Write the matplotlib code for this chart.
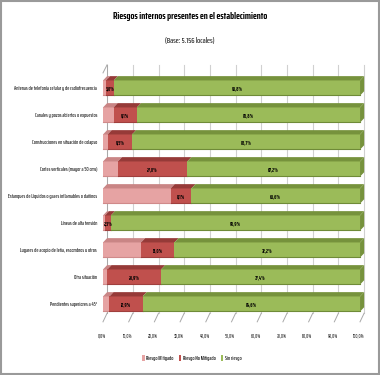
import matplotlib
matplotlib.use("Agg")
import matplotlib.pyplot as plt
from matplotlib.patches import Polygon, Rectangle
from matplotlib.lines import Line2D

categories = [
    "Antenas de telefonía celular y de radiofrecuencia",
    "Canales y pozos abiertos o expuestos",
    "Construcciones en situación de colapso",
    "Cortes verticales (mayor a 50 cms)",
    "Estanques de Líquidos o gases inflamables o dañinos",
    "Líneas de alta tensión",
    "Lugares de acopio de leña, escombros u otros",
    "Otra situación",
    "Pendientes superiores a 45°",
]
mitigado = [1.2, 4.1, 1.8, 5.8, 26.3, 0.8, 14.8, 1.7, 2.5]
no_mitigado = [3.0, 9.1, 9.5, 27.0, 8.1, 2.3, 13.0, 20.9, 12.9]
sin_riesgo = [95.8, 86.8, 88.7, 67.2, 65.6, 96.9, 72.2, 77.4, 84.6]
series_names = ["Riesgo Mitigado", "Riesgo No Mitigado", "Sin riesgo"]
xticks = [0, 10, 20, 30, 40, 50, 60, 70, 80, 90, 100]
title = "Riesgos internos presentes en el establecimiento"
subtitle = "(Base: 5.156 locales)"

FONT = ["Saira ExtraCondensed", "Barlow Condensed", "Roboto Condensed", "DejaVu Sans"]
plt.rcParams["font.family"] = FONT

front = ["#E6A3A3", "#C0504D", "#9BBB59"]
topc = ["#C98585", "#963A38", "#76923C"]
edge = ["#D08A8A", "#A03F3D", "#6F8B38"]

fig = plt.figure(figsize=(3.8, 3.75), dpi=100)
fig.patch.set_facecolor("white")
renderer = fig.canvas.get_renderer()


def fit(t, width_px, max_size=20):
    w = t.get_window_extent(renderer).width
    if w > 0:
        t.set_fontsize(min(max_size, t.get_fontsize() * width_px / w))
    return t


fig.add_artist(Rectangle((0.003, 0.003), 0.994, 0.994, transform=fig.transFigure,
                         fill=False, edgecolor="#9A9A9A", linewidth=1.5))

ax = fig.add_axes([0.2575, 0.1173, 0.717, 0.72])
ax.set_xlim(-2, 104)
ax.set_ylim(9, -1)
ax.axis("off")

dx, dy = 1.6, 0.16
h = 0.56
n = len(categories)
ytop_wall = -0.5 - dy - 0.2
ybot_wall = n - 0.5 - dy

grid_c = "#D0D0D0"
tick_texts = []
for v in xticks:
    ax.add_line(Line2D([v + dx, v + dx], [ytop_wall, ybot_wall], color=grid_c, lw=0.8, zorder=0))
    ax.add_line(Line2D([v, v + dx], [ybot_wall + 0.32, ybot_wall], color="#A8A8A8", lw=0.7, zorder=0))
    tick_texts.append(ax.text(v - 0.5, 9.17, f"{v:.1f}%".replace(".", ","), ha="center", va="center",
                              fontsize=6, fontweight="medium", color="#222222", clip_on=False))
fit(tick_texts[-1], 11.5)
for t in tick_texts:
    t.set_fontsize(tick_texts[-1].get_fontsize())

ax.add_line(Line2D([dx, dx], [ytop_wall, ybot_wall], color="#A8A8A8", lw=0.7, zorder=0))
ax.add_line(Line2D([0, dx], [ytop_wall + 0.3, ytop_wall], color="#A8A8A8", lw=0.7, zorder=0))

cat_texts = []
val_texts = []
for i in range(n):
    vals = [mitigado[i], no_mitigado[i], sin_riesgo[i]]
    left = 0.0
    for k, v in enumerate(vals):
        l, r = left, left + v
        y0, y1 = i - h / 2, i + h / 2
        ax.add_patch(Rectangle((l, y0), v, h, facecolor=front[k], edgecolor="none", zorder=2))
        ax.add_line(Line2D([l, r], [y1 - 0.03, y1 - 0.03], color=edge[k], lw=0.8, zorder=3))
        ax.add_patch(Polygon([(l, y0), (r, y0), (r + dx, y0 - dy), (l + dx, y0 - dy)],
                             closed=True, facecolor=topc[k], edgecolor="none", zorder=2))
        if k == 2:
            ax.add_patch(Polygon([(r, y0), (r + dx, y0 - dy), (r + dx, y1 - dy), (r, y1)],
                                 closed=True, facecolor=topc[k], edgecolor="none", zorder=2))
        if k >= 1:
            val_texts.append(ax.text((l + r) / 2, i + 0.02, f"{v:.1f}%".replace(".", ","),
                                     ha="center", va="center", fontsize=6, fontweight="bold",
                                     color="#000000", zorder=4))
        left = r
    cat_texts.append(ax.text(-2.3, i + 0.02, categories[i], ha="right", va="center", fontsize=6,
                             fontweight="medium", color="#111111", clip_on=False))

fit(cat_texts[4], 90)
for t in cat_texts:
    t.set_fontsize(cat_texts[4].get_fontsize())
fit(val_texts[1], 11)
for t in val_texts:
    t.set_fontsize(val_texts[1].get_fontsize())

tt = fig.text(0.5, 0.955, title, ha="center", va="center", fontsize=9, fontweight="bold", color="#000000")
fit(tt, 156)
st = fig.text(0.5, 0.893, subtitle, ha="center", va="center", fontsize=6, fontweight="medium",
              color="#222222")
fit(st, 50)

handles = [Rectangle((0, 0), 1, 1, facecolor=front[k], edgecolor="none") for k in range(3)]
leg = fig.legend(handles, series_names, loc="center", bbox_to_anchor=(0.505, 0.046), ncol=3,
                 frameon=False, prop={"size": cat_texts[0].get_fontsize(), "weight": "medium"},
                 handlelength=0.45, handleheight=1.2, handletextpad=0.3, columnspacing=0.9)

fig.savefig("out.png", dpi=100, facecolor="white")
